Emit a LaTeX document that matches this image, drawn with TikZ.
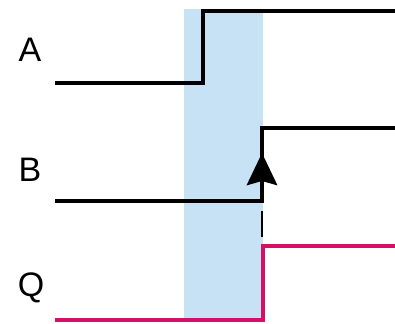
\documentclass[tikz,border=0pt]{standalone}
\usepackage{fontspec}
\setmainfont{Liberation Sans}
\usetikzlibrary{arrows.meta}

\definecolor{window}{RGB}{199,225,245}
\definecolor{qline}{RGB}{214,16,104}

\begin{document}
\begin{tikzpicture}[x=0.5pt, y=-0.5pt,
    signal/.style={line width=2.4pt, line join=miter},
    label/.style={font=\fontsize{17}{19}\selectfont, anchor=center},
    edge/.style={-{Stealth[length=16pt, width=15pt, inset=2pt]}, line width=2.4pt}
]
\useasboundingbox (0,0) rectangle (395,324);

% Window
\fill[window] (184,9) rectangle (263,322);

% Labels
\node[label] (la) at (30,50) {A};
\node[label] (lb) at (30,170) {B};
\node[label] (lq) at (31,288) {Q};

% Signals
\draw[signal] (55,83) -- (203,83) -- (203,11) -- (395,11);
\draw[signal] (55,201) -- (262,201) -- (262,128) -- (395,128);
\draw[signal, qline] (55,320) -- (263,320) -- (263,246) -- (395,246);

% Clock edge
\coordinate (rise) at (262,201);
\coordinate (tip) at (262,153);
\draw[edge] (rise) -- (tip);
\draw[line width=0.7pt] (262,211) -- (262,237);

\end{tikzpicture}
\end{document}
